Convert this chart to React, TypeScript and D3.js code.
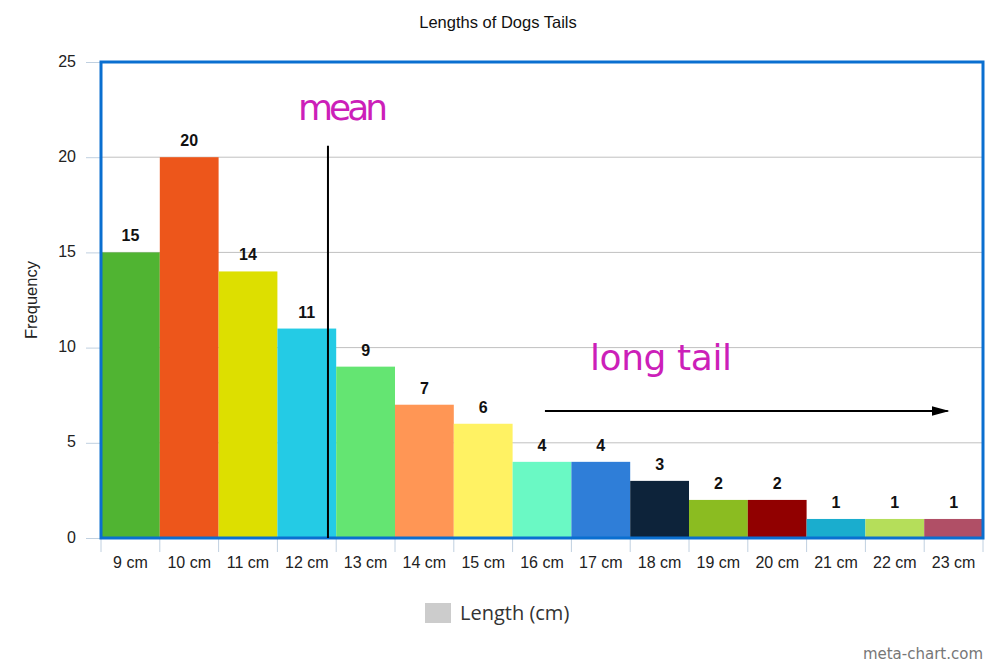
import React, { useRef, useEffect } from "react";
import * as d3 from "d3";

const categories = [9, 10, 11, 12, 13, 14, 15, 16, 17, 18, 19, 20, 21, 22, 23];
const frequencies = [15, 20, 14, 11, 9, 7, 6, 4, 4, 3, 2, 2, 1, 1, 1];
const barColors = [
    "#50B432", "#ED561B", "#DDDF00", "#24CBE5", "#64E572", "#FF9655", "#FFF263", "#6AF9C4",
    "#2f7ed8", "#0d233a", "#8bbc21", "#910000", "#1aadce", "#b5de5a", "#b04f66",
];
const yTicks = [0, 5, 10, 15, 20, 25];

// annotations, in data units (category value, frequency)
const meanLine = { x: 12.36, yTop: 20.6 };
const tailArrow = { x1: 16.05, x2: 22.9, y: 6.67 };

export const App = () => {
    const svgRef = useRef<SVGSVGElement>(null);

    useEffect(() => {
        if (!svgRef.current) return;
        document.body.style.margin = "0";

        const width = 1000;
        const height = 667;
        const margin = { top: 62, right: 17, bottom: 129, left: 101 };
        const svg = d3.select(svgRef.current);
        svg.selectAll("*").remove();
        svg.attr("width", width).attr("height", height);

        const x = d3
            .scaleBand<number>()
            .domain(categories)
            .range([margin.left, width - margin.right]);
        const xv = (v: number) =>
            (x(categories[0]) as number) + (v - categories[0]) * x.bandwidth() + x.bandwidth() / 2;

        const y = d3
            .scaleLinear()
            .domain([0, 25])
            .range([height - margin.bottom, margin.top]);

        const font = "'Liberation Sans', Arial, sans-serif";

        svg.append("text")
            .attr("x", 498)
            .attr("y", 28)
            .attr("text-anchor", "middle")
            .attr("font-family", font)
            .attr("font-size", 16.5)
            .attr("fill", "#111")
            .text("Lengths of Dogs Tails");

        // grid
        svg.append("g")
            .selectAll("line")
            .data(yTicks)
            .join("line")
            .attr("x1", margin.left)
            .attr("x2", width - margin.right)
            .attr("y1", (d) => y(d))
            .attr("y2", (d) => y(d))
            .attr("stroke", "#c0c0c0")
            .attr("stroke-width", 1);

        // y axis
        const yAxis = svg
            .append("g")
            .attr("transform", `translate(${margin.left},0)`)
            .call(d3.axisLeft(y).tickValues(yTicks).tickSize(15).tickPadding(10));
        yAxis.select(".domain").remove();
        yAxis.selectAll(".tick line").attr("stroke", "#C0D0E0");
        yAxis.selectAll("text")
            .attr("font-family", font)
            .attr("font-size", 16)
            .attr("fill", "#222")
            .attr("dy", "0.25em");

        svg.append("text")
            .attr("transform", `translate(37,${(margin.top + height - margin.bottom) / 2}) rotate(-90)`)
            .attr("text-anchor", "middle")
            .attr("font-family", font)
            .attr("font-size", 16.5)
            .attr("fill", "#222")
            .text("Frequency");

        // bars
        svg.append("g")
            .selectAll("rect")
            .data(frequencies)
            .join("rect")
            .attr("x", (_, i) => x(categories[i]) as number)
            .attr("y", (d) => y(d))
            .attr("width", x.bandwidth())
            .attr("height", (d) => y(0) - y(d))
            .attr("fill", (_, i) => barColors[i]);

        svg.append("g")
            .selectAll("text")
            .data(frequencies)
            .join("text")
            .attr("x", (_, i) => (x(categories[i]) as number) + x.bandwidth() / 2)
            .attr("y", (d) => y(d) - 11)
            .attr("text-anchor", "middle")
            .attr("font-family", font)
            .attr("font-size", 16)
            .attr("font-weight", "bold")
            .attr("fill", "#111")
            .text((d) => d);

        // x axis
        const xAxis = svg
            .append("g")
            .attr("transform", `translate(0,${y(0)})`)
            .call(
                d3.axisBottom(x)
                    .tickFormat((d) => `${d} cm`)
                    .tickSize(0)
                    .tickPadding(19)
            );
        xAxis.select(".domain").attr("stroke", "#C0D0E0");
        xAxis.selectAll("text")
            .attr("font-family", font)
            .attr("font-size", 16)
            .attr("fill", "#222");
        xAxis.append("g")
            .selectAll("line")
            .data(categories.concat([categories[categories.length - 1] + 1]))
            .join("line")
            .attr("x1", (d) => xv(d) - x.bandwidth() / 2)
            .attr("x2", (d) => xv(d) - x.bandwidth() / 2)
            .attr("y1", 0)
            .attr("y2", 14)
            .attr("stroke", "#C0D0E0");

        // plot border
        svg.append("rect")
            .attr("x", margin.left)
            .attr("y", margin.top)
            .attr("width", width - margin.left - margin.right)
            .attr("height", y(0) - margin.top)
            .attr("fill", "none")
            .attr("stroke", "#0a6fd0")
            .attr("stroke-width", 3);

        // mean annotation
        svg.append("line")
            .attr("x1", xv(meanLine.x))
            .attr("x2", xv(meanLine.x))
            .attr("y1", y(meanLine.yTop))
            .attr("y2", y(0))
            .attr("stroke", "#000")
            .attr("stroke-width", 2);
        svg.append("text")
            .attr("x", 298)
            .attr("y", 120)
            .attr("font-family", "'DejaVu Sans', sans-serif")
            .attr("font-size", 36)
            .attr("fill", "#cc1fb9")
            .attr("textLength", 90)
            .text("mean");

        // long tail annotation
        svg.append("defs")
            .append("marker")
            .attr("id", "arrowhead")
            .attr("viewBox", "0 0 10 10")
            .attr("refX", 9)
            .attr("refY", 5)
            .attr("markerWidth", 18)
            .attr("markerHeight", 10)
            .attr("markerUnits", "userSpaceOnUse")
            .attr("orient", "auto")
            .attr("preserveAspectRatio", "none")
            .append("path")
            .attr("d", "M0,0 L10,5 L0,10 z")
            .attr("fill", "#000");
        svg.append("line")
            .attr("x1", xv(tailArrow.x1))
            .attr("x2", xv(tailArrow.x2))
            .attr("y1", y(tailArrow.y))
            .attr("y2", y(tailArrow.y))
            .attr("stroke", "#000")
            .attr("stroke-width", 2)
            .attr("marker-end", "url(#arrowhead)");
        svg.append("text")
            .attr("x", 590)
            .attr("y", 370)
            .attr("font-family", "'DejaVu Sans', sans-serif")
            .attr("font-size", 36)
            .attr("fill", "#cc1fb9")
            .attr("textLength", 142)
            .text("long tail");

        // legend
        svg.append("rect")
            .attr("x", 425)
            .attr("y", 603)
            .attr("width", 26)
            .attr("height", 20)
            .attr("fill", "#cccccc");
        svg.append("text")
            .attr("x", 460)
            .attr("y", 620)
            .attr("font-family", "'Open Sans', 'DejaVu Sans', sans-serif")
            .attr("font-size", 20)
            .attr("fill", "#333")
            .text("Length (cm)");

        svg.append("text")
            .attr("x", 983)
            .attr("y", 659)
            .attr("text-anchor", "end")
            .attr("font-family", "'DejaVu Sans', sans-serif")
            .attr("font-size", 15)
            .attr("fill", "#777")
            .text("meta-chart.com");
    }, []);

    return <svg ref={svgRef} style={{ display: "block" }} />;
};

export default App;
